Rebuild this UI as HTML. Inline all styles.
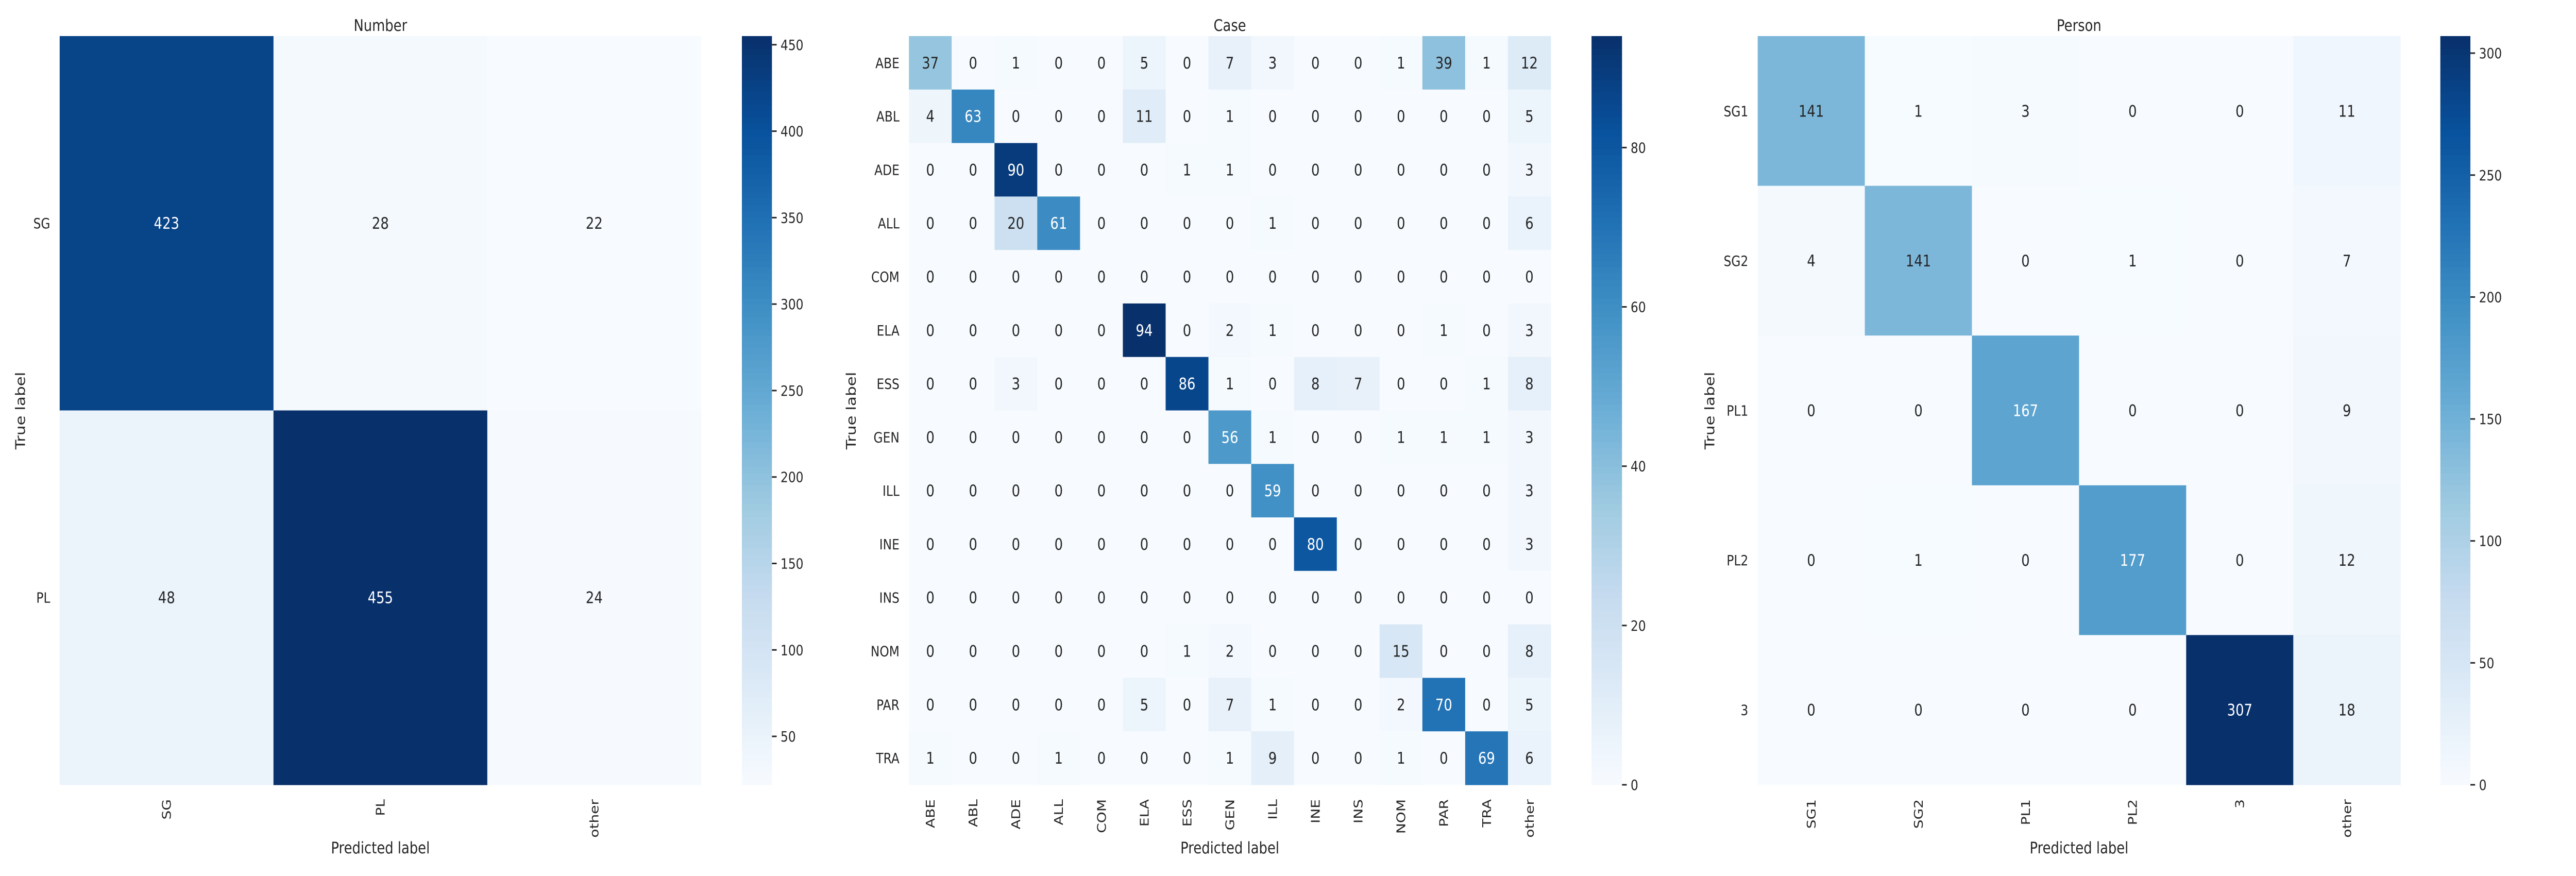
<!DOCTYPE html>
<html><head><meta charset="utf-8"><style>
html,body{margin:0;padding:0;background:#fff;overflow:hidden;width:100%;height:100%;}
svg{display:block;width:100vw;height:100vh;font-family:"DejaVu Sans","Liberation Sans",sans-serif;}
</style></head><body>
<svg id="fig" viewBox="0 0 6000 1700" preserveAspectRatio="none" xmlns="http://www.w3.org/2000/svg"></svg>
<script>
// ---- data ----
const numberLabelsX = ["SG","PL","other"];
const numberLabelsY = ["SG","PL"];
const numberValues = [[423,28,22],[48,455,24]];
const numberTicks = [50,100,150,200,250,300,350,400,450];

const caseLabelsX = ["ABE","ABL","ADE","ALL","COM","ELA","ESS","GEN","ILL","INE","INS","NOM","PAR","TRA","other"];
const caseLabelsY = ["ABE","ABL","ADE","ALL","COM","ELA","ESS","GEN","ILL","INE","INS","NOM","PAR","TRA"];
const caseValues = [
[37,0,1,0,0,5,0,7,3,0,0,1,39,1,12],
[4,63,0,0,0,11,0,1,0,0,0,0,0,0,5],
[0,0,90,0,0,0,1,1,0,0,0,0,0,0,3],
[0,0,20,61,0,0,0,0,1,0,0,0,0,0,6],
[0,0,0,0,0,0,0,0,0,0,0,0,0,0,0],
[0,0,0,0,0,94,0,2,1,0,0,0,1,0,3],
[0,0,3,0,0,0,86,1,0,8,7,0,0,1,8],
[0,0,0,0,0,0,0,56,1,0,0,1,1,1,3],
[0,0,0,0,0,0,0,0,59,0,0,0,0,0,3],
[0,0,0,0,0,0,0,0,0,80,0,0,0,0,3],
[0,0,0,0,0,0,0,0,0,0,0,0,0,0,0],
[0,0,0,0,0,0,1,2,0,0,0,15,0,0,8],
[0,0,0,0,0,5,0,7,1,0,0,2,70,0,5],
[1,0,0,1,0,0,0,1,9,0,0,1,0,69,6]];
const caseTicks = [0,20,40,60,80];

const personLabelsX = ["SG1","SG2","PL1","PL2","3","other"];
const personLabelsY = ["SG1","SG2","PL1","PL2","3"];
const personValues = [
[141,1,3,0,0,11],
[4,141,0,1,0,7],
[0,0,167,0,0,9],
[0,1,0,177,0,12],
[0,0,0,0,307,18]];
const personTicks = [0,50,100,150,200,250,300];

// ---- colormap (Blues) ----
const stops=["#f7fbff","#deebf7","#c6dbef","#9ecae1","#6baed6","#4292c6","#2171b5","#08519c","#08306b"].map(h=>[parseInt(h.slice(1,3),16),parseInt(h.slice(3,5),16),parseInt(h.slice(5,7),16)]);
function blues(t){t=Math.max(0,Math.min(1,t));const p=t*8,i=Math.min(7,Math.floor(p)),f=p-i;
 return stops[i].map((c,k)=>Math.round(c+(stops[i+1][k]-c)*f));}
function rgb(c){return `rgb(${c[0]},${c[1]},${c[2]})`;}
function lum(c){const l=c.map(v=>{v/=255;return v<=0.03928?v/12.92:Math.pow((v+0.055)/1.055,2.4);});return 0.2126*l[0]+0.7152*l[1]+0.0722*l[2];}

const svg=document.getElementById('fig');
const NS="http://www.w3.org/2000/svg";
function mk(tag,attrs,parent){const e=document.createElementNS(NS,tag);for(const k in attrs)e.setAttribute(k,attrs[k]);(parent||svg).appendChild(e);return e;}

function panel(cfg){
 const g=mk('g',{});
 
 
 const {x0,x1,y0,y1}=cfg;
 const vals=cfg.values, nr=vals.length, nc=vals[0].length;
 const flat=vals.flat(); const vmin=Math.min(...flat), vmax=Math.max(...flat);
 const cw=(x1-x0)/nc, ch=(y1-y0)/nr;
 const xScale=j=>x0+j*cw, yScale=i=>y0+i*ch;
 for(let i=0;i<nr;i++)for(let j=0;j<nc;j++){
  const v=vals[i][j], c=blues((v-vmin)/(vmax-vmin));
  const r=mk('rect',{x:xScale(j),y:yScale(i),width:cw+0.6,height:ch+0.6,fill:rgb(c)},g);
  
  
  const t=mk('text',{x:xScale(j)+cw/2,y:yScale(i)+ch/2+11,'text-anchor':'middle','font-size':31,fill:lum(c)>0.408?'#262626':'#ffffff'},g);
  t.textContent=v;
  
  
 }
 cfg.labelsY.forEach((l,i)=>{const t=mk('text',{x:x0-22,y:yScale(i)+ch/2+10,'text-anchor':'end','font-size':28,fill:'#262626'},g);t.textContent=l;
  
  });
 cfg.labelsX.forEach((l,j)=>{const cx=xScale(j)+cw/2;const t=mk('text',{x:0,y:0,'text-anchor':'end','font-size':28,fill:'#262626',transform:`translate(${cx+10},1551) rotate(-90)`},g);t.textContent=l;
  
  });
 const ti=mk('text',{x:(x0+x1)/2,y:60,'text-anchor':'middle','font-size':31,fill:'#262626'},g);ti.textContent=cfg.title;
 
 
 const xl=mk('text',{x:(x0+x1)/2,y:1656,'text-anchor':'middle','font-size':31,fill:'#262626'},g);xl.textContent='Predicted label';
 
 
 const yl=mk('text',{x:0,y:0,'text-anchor':'middle','font-size':31,fill:'#262626',transform:`translate(${cfg.ylx},797) rotate(-90)`},g);yl.textContent='True label';
 
 
 // colorbar
 const cb=mk('g',{},g);
 
 
 const N=120;for(let k=0;k<N;k++){const t0=k/N;mk('rect',{x:cfg.cbx0,y:y1-(k+1)*(y1-y0)/N,width:cfg.cbx1-cfg.cbx0,height:(y1-y0)/N+0.8,fill:rgb(blues(t0+0.5/N))},cb);}
 const cy=v=>y1-(v-vmin)/(vmax-vmin)*(y1-y0);
 cfg.ticks.forEach(v=>{const y=cy(v);mk('line',{x1:cfg.cbx1,x2:cfg.cbx1+11,y1:y,y2:y,stroke:'#262626','stroke-width':3},cb);
  const t=mk('text',{x:cfg.cbx1+20,y:y+10,'font-size':28,fill:'#262626'},cb);t.textContent=v;
  
  });
}
panel({name:'number',title:'Number',values:numberValues,labelsX:numberLabelsX,labelsY:numberLabelsY,ticks:numberTicks,x0:139,x1:1633,y0:70,y1:1523,cbx0:1728,cbx1:1798,ylx:58});
panel({name:'case',title:'Case',values:caseValues,labelsX:caseLabelsX,labelsY:caseLabelsY,ticks:caseTicks,x0:2117,x1:3612,y0:70,y1:1523,cbx0:3707,cbx1:3778,ylx:1993});
panel({name:'person',title:'Person',values:personValues,labelsX:personLabelsX,labelsY:personLabelsY,ticks:personTicks,x0:4094,x1:5591,y0:70,y1:1523,cbx0:5684,cbx1:5754,ylx:3993});
</script>
</body></html>
